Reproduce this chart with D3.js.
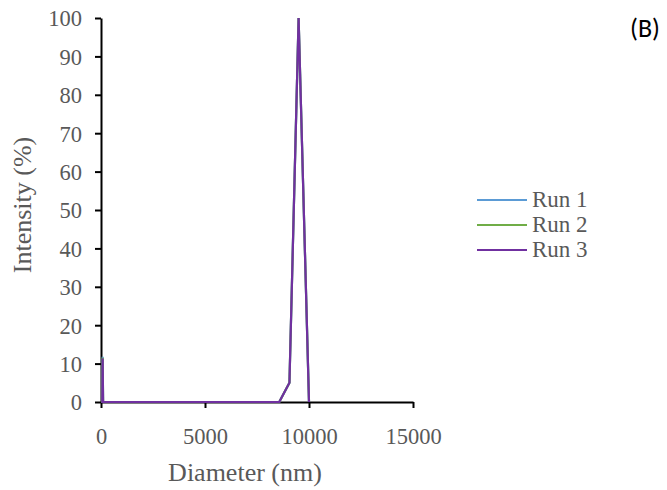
<!DOCTYPE html>
<html>
<head>
<meta charset="utf-8">
<script src="https://cdn.jsdelivr.net/npm/d3@7"></script>
<style>
body { margin: 0; background: #fff; }
text { font-family: "Liberation Serif", "Times New Roman", serif; fill: #595959; }
</style>
</head>
<body>
<div id="chart"></div>
<script>
// diameter (nm) and intensity (%) for the three runs
var diameters = [10, 60, 80, 100, 120, 8570, 9060, 9500, 10000];
var run1 = [0, 0, 11.8, 0, 0, 0, 5, 100, 0];
var run2 = [0, 0, 11.5, 0, 0, 0, 5, 100, 0];
var run3 = [0, 0, 11.3, 0, 0, 0, 5, 100, 0];
var runNames = ["Run 1", "Run 2", "Run 3"];
var runColors = ["#5B9BD5", "#70AD47", "#7030A0"];
var xTicks = [0, 5000, 10000, 15000];
var yTicks = [0, 10, 20, 30, 40, 50, 60, 70, 80, 90, 100];

var W = 667, H = 490;
var svg = d3.select("#chart").append("svg").attr("width", W).attr("height", H);

var x = d3.scaleLinear().domain([0, 15000]).range([101, 413]);
var y = d3.scaleLinear().domain([0, 100]).range([402, 18]);

// axes
var xAxis = svg.append("g").attr("transform", "translate(0," + y(0) + ")")
    .call(d3.axisBottom(x).tickValues(xTicks).tickSize(6).tickSizeOuter(0).tickFormat(d3.format("d")));
var yAxis = svg.append("g").attr("transform", "translate(" + x(0) + ",0)")
    .call(d3.axisLeft(y).tickValues(yTicks).tickSize(6).tickSizeOuter(0));
[xAxis, yAxis].forEach(function (g) {
    g.select(".domain").attr("stroke", "#000").attr("stroke-width", 2);
    g.selectAll(".tick line").attr("stroke", "#000").attr("stroke-width", 2);
    g.selectAll(".tick text").attr("font-size", "22.5px").attr("fill", "#595959")
        .attr("font-family", "Liberation Serif, serif");
});
xAxis.selectAll(".tick text").attr("y", 42).attr("dy", 0);
yAxis.selectAll(".tick text").attr("x", -19).attr("dy", "0.35em");

// lines
var line = d3.line().x(function (d) { return x(d[0]); }).y(function (d) { return y(d[1]); });
[run1, run2, run3].forEach(function (vals, i) {
    var pts = diameters.map(function (dd, j) { return [dd, vals[j]]; });
    svg.append("path").datum(pts)
        .attr("d", line)
        .attr("fill", "none")
        .attr("stroke", runColors[i])
        .attr("stroke-width", 2.2);
});

// axis titles
svg.append("text").attr("x", 245).attr("y", 481).attr("text-anchor", "middle")
    .attr("font-size", "26px").text("Diameter (nm)");
svg.append("text").attr("transform", "translate(31,205) rotate(-90)").attr("text-anchor", "middle")
    .attr("font-size", "26px").text("Intensity (%)");

// legend
runNames.forEach(function (n, i) {
    var ly = 200 + i * 25;
    svg.append("line").attr("x1", 477).attr("x2", 527).attr("y1", ly).attr("y2", ly)
        .attr("stroke", runColors[i]).attr("stroke-width", 2.2);
    svg.append("text").attr("x", 532).attr("y", ly + 7).attr("font-size", "23px").text(n);
});

// panel label
svg.append("text").attr("x", 630).attr("y", 37)
    .style("font-family", "Carlito, 'Open Sans', 'Liberation Sans', sans-serif")
    .style("fill", "#000").attr("font-size", "26px").text("(B)");
</script>
</body>
</html>
